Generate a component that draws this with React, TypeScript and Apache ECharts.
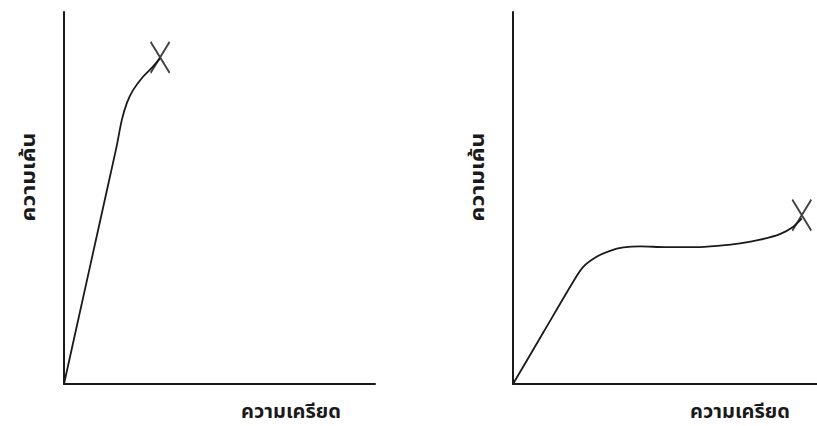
import React, { useEffect, useRef } from "react";
import * as echarts from "echarts";

// Left chart: brittle material (stress-strain), values in % of axis range
const leftStrain = [0, 8, 15, 16.9, 18.6, 20.2, 22.2, 25.4, 28.6, 30.9];
const leftStress = [0, 30.2, 56.6, 63.8, 71.0, 75.5, 79.0, 82.6, 85.3, 87.6];
const leftFracture = [30.9, 87.8];

// Right chart: ductile material
const rightStrain = [0, 10, 19.8, 23.1, 27.5, 31.9, 36.3, 42, 50, 60, 68, 74.7, 81.3, 87.8, 92.2, 95.0];
const rightStress = [0, 13.9, 27.5, 31.5, 34.2, 35.8, 36.7, 37.0, 36.8, 36.8, 37.2, 37.8, 38.8, 40.3, 42.3, 44.5];
const rightFracture = [95.0, 45.4];

const yLabel = "ความเค้น";
const xLabel = "ความเครียด";

const FONT = "'Noto Sans Thai', 'Noto Sans', 'DejaVu Sans', sans-serif";
const INK = "#1a1a1a";
const CROSS = "path://M0,0L20,30M20,0L0,30";

export default function App() {
  const ref = useRef<HTMLDivElement>(null);
  useEffect(() => {
    if (!ref.current) return;
    const chart = echarts.init(ref.current, null, { renderer: "svg" });
    const axisCommon = {
      type: "value",
      min: 0,
      max: 100,
      axisLine: { show: true, lineStyle: { color: INK, width: 2 } },
      axisTick: { show: false },
      axisLabel: { show: false },
      splitLine: { show: false },
    };
    const lineStyle = { color: INK, width: 1.8 };
    const labelStyle = {
      fontFamily: FONT,
      fontSize: 20,
      lineHeight: 22,
      fontWeight: "bold",
      fill: INK,
      align: "center",
      verticalAlign: "middle",
    };
    const crossStyle = { color: "rgba(0,0,0,0)", borderColor: "#111", borderWidth: 2.1 };
    chart.setOption({
      animation: false,
      backgroundColor: "#ffffff",
      grid: [
        { left: 64, top: 12, width: 311, height: 372 },
        { left: 513, top: 12, width: 304, height: 372 },
      ],
      xAxis: [
        { ...axisCommon, gridIndex: 0 },
        { ...axisCommon, gridIndex: 1 },
      ],
      yAxis: [
        { ...axisCommon, gridIndex: 0 },
        { ...axisCommon, gridIndex: 1 },
      ],
      series: [
        {
          type: "line",
          xAxisIndex: 0,
          yAxisIndex: 0,
          smooth: 0.3,
          showSymbol: false,
          lineStyle,
          data: leftStrain.map((x, i) => [x, leftStress[i]]),
        },
        {
          type: "scatter",
          xAxisIndex: 0,
          yAxisIndex: 0,
          symbol: CROSS,
          symbolSize: [19, 31],
          itemStyle: crossStyle,
          data: [leftFracture],
        },
        {
          type: "line",
          xAxisIndex: 1,
          yAxisIndex: 1,
          smooth: 0.3,
          showSymbol: false,
          lineStyle,
          data: rightStrain.map((x, i) => [x, rightStress[i]]),
        },
        {
          type: "scatter",
          xAxisIndex: 1,
          yAxisIndex: 1,
          symbol: CROSS,
          symbolSize: [19, 31],
          itemStyle: crossStyle,
          data: [rightFracture],
        },
      ],
      graphic: [
        {
          type: "text",
          x: 29,
          y: 177,
          rotation: Math.PI / 2,
          scaleX: 1.15,
          scaleY: 1.0,
          style: { text: yLabel, ...labelStyle },
        },
        {
          type: "text",
          x: 478,
          y: 177,
          rotation: Math.PI / 2,
          scaleX: 1.15,
          scaleY: 1.0,
          style: { text: yLabel, ...labelStyle },
        },
        {
          type: "text",
          x: 291,
          y: 412,
          style: { text: xLabel, ...labelStyle },
        },
        {
          type: "text",
          x: 740,
          y: 412,
          style: { text: xLabel, ...labelStyle },
        },
      ],
    });
    return () => chart.dispose();
  }, []);
  return (
    <div
      ref={ref}
      style={{ position: "fixed", left: 0, top: 0, width: 817, height: 426, background: "#fff" }}
    />
  );
}
